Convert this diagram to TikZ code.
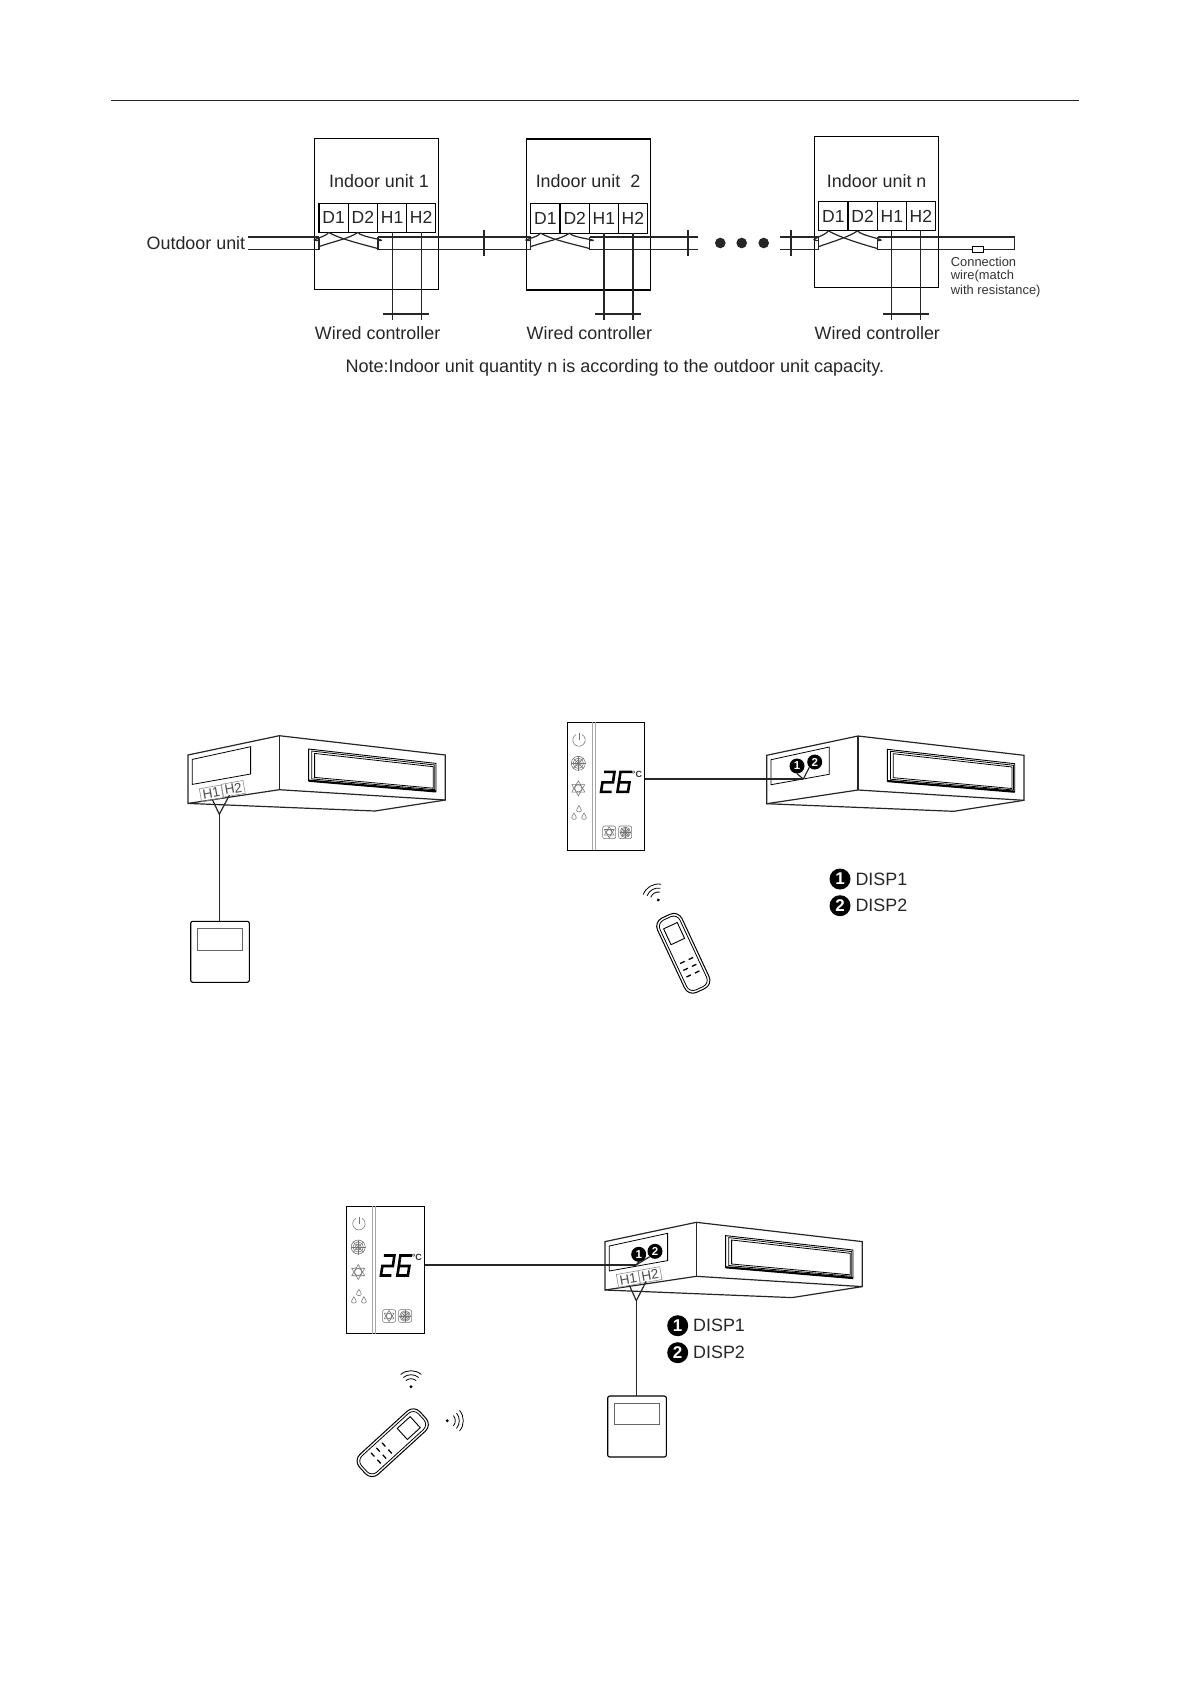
\documentclass[tikz,border=0pt]{standalone}
\usepackage{fontspec}
\setmainfont{Liberation Sans}
\usetikzlibrary{calc}
\newcommand{\fs}[1]{\fontsize{#1}{#1}\selectfont}
\tikzset{
    wire/.style={line width=1.2pt,black!85},
    label/.style={font=\fs{17.9},text=black!85,inner sep=0pt},
    cell/.style={draw,line width=1.1pt,minimum width=29.2pt,minimum height=29.3pt,inner sep=0pt,outer sep=0pt,font=\fs{17.5},text=black!85},
    unitbox/.style={draw,line width=1.1pt,anchor=north west,minimum width=124.3pt,minimum height=151pt,inner sep=0pt,outer sep=0pt},
    htag/.style={draw=black!45,line width=.6pt,rotate=10,minimum width=22pt,minimum height=13pt,inner sep=0pt,outer sep=0pt,font=\fs{13.6},text=black!70},
    numdot/.style={circle,fill=black,text=white,inner sep=0pt,minimum size=15pt,font=\fs{11.5}\bfseries},
    numdotbig/.style={circle,fill=black,text=white,inner sep=0pt,minimum size=21pt,font=\fs{17}\bfseries},
    icon/.style={draw=black!55,line width=.55pt},
    ductunit/.pic={
        \draw[wire] (-91.3,19.3) -- (0,0) -- (166,19.3) -- (166,64.3) -- (95.7,75.3) -- (-91.3,67.7) -- cycle;
        \draw[wire] (0,0) -- (0,54);
        \draw[wire] (-91.3,67.7) -- (0,54) -- (166,64.3);
        \draw[line width=.8pt] (-87,23.7) -- (-28.7,11) -- (-28.7,38.3) -- (-87,48.7) -- cycle;
        \draw[line width=.9pt] (29.3,13.3) -- (156.7,27.7) -- (156.7,55.7) -- (29.3,45) -- cycle;
        \draw[line width=.8pt] (32.5,15.3) -- (155.5,29.3) -- (155.5,54) -- (32.5,43.2) -- cycle;
        \draw[line width=.8pt] (35.3,17.7) -- (154,31) -- (154,52.5) -- (35.3,41.7) -- cycle;
        \draw[line width=2.2pt] (29.3,45) -- (156.7,55.7);
    },
    wiredctrl/.pic={
        \node[draw,line width=1.1pt,rounded corners=2pt,anchor=north,minimum width=58.6pt,minimum height=61pt,inner sep=0pt,outer sep=0pt] (body) at (0,0) {};
        \draw[black!60,line width=1pt] (-22.8,7.4) rectangle (22.8,28.7);
    },
    sunicon/.pic={
        \draw[icon] (0,0) circle[radius=3.6pt];
        \draw[icon] (90:7.5pt) -- (210:7.5pt) -- (330:7.5pt) -- cycle;
        \draw[icon] (270:7.5pt) -- (30:7.5pt) -- (150:7.5pt) -- cycle;
    },
    snowicon/.pic={
        \draw[icon] (0,0) circle[radius=3pt];
        \draw[icon] (0,0) circle[radius=5.2pt];
        \draw[icon] (0,0) circle[radius=7pt];
        \foreach \a in {0,45,...,315}{
            \draw[icon] (0,0) -- (\a:7.5pt);
        }
    },
    dropicon/.pic={
        \draw[icon] (0,-3.8) .. controls (1,-1.4) and (2.4,-.5) .. (2.4,1) .. controls (2.4,3.1) and (-2.4,3.1) .. (-2.4,1) .. controls (-2.4,-.5) and (-1,-1.4) .. (0,-3.8) -- cycle;
    },
    dispanel/.pic={
        \node[draw,line width=1pt,anchor=north west,minimum width=77.8pt,minimum height=127.7pt,inner sep=0pt,outer sep=0pt] (box) at (0,0) {};
        \draw[black!35,line width=.7pt] (25.3,0) -- (25.3,127.7);
        \draw[black!35,line width=.7pt] (28,0) -- (28,127.7);
        % power
        \draw[icon] (12,17.7) ++(60:6.2pt) arc[start angle=60,end angle=-240,radius=6.2pt];
        \draw[icon] (12,10.5) -- (12,17.7);
        \pic at (11.3,41) {snowicon};
        \pic at (11.3,66) {sunicon};
        \pic at (12,87) {dropicon};
        \pic at (7,94.5) {dropicon};
        \pic at (17,94.5) {dropicon};
        % 26
        \draw[line width=2.6pt,line join=miter] (37,49.5) -- (47.5,49.5) -- (46,60) -- (35.5,60) -- (34,69.5) -- (44.5,69.5);
        \draw[line width=2.6pt,line join=miter] (65,49.5) -- (53.5,49.5) -- (50.5,69.5) -- (61,69.5) -- (62.5,60) -- (52,60);
        \node[inner sep=0pt,font=\fs{9}\bfseries,text=black!80] (degc) at (70,51.7) {°C};
        \draw[icon,rounded corners=2pt] (35.7,103.7) rectangle (48.7,116.4);
        \draw[icon,rounded corners=2pt] (51.7,103.7) rectangle (64.7,116.4);
        \pic[scale=.75] at (42.2,110) {sunicon};
        \pic[scale=.75] at (58.2,110) {snowicon};
    },
    remote/.pic={
        \draw[line width=1pt,rounded corners=9pt] (-13.5,-41) rectangle (13.5,41);
        \draw[line width=.8pt,rounded corners=7pt] (-11,-38.5) rectangle (11,38.5);
        \draw[line width=.9pt] (-7.5,-30.5) rectangle (7.5,-13);
        \foreach \r in {7.9,15.5,22.8}{
            \foreach \s in {-1,1}{
                \draw[line width=1.3pt] ({\s*4.7-2.5},\r) -- ({\s*4.7+2.5},\r);
            }
        }
    },
    wifi/.pic={
        \fill[black] (0,0) circle[radius=1.6pt];
        \foreach \r in {8,12,16}{
            \draw[line width=.8pt] (0,0) ++(50:\r pt) arc[start angle=50,end angle=130,radius=\r pt];
        }
    },
}
\begin{document}
\begin{tikzpicture}[x=1pt,y=-1pt]
\useasboundingbox (0,0) rectangle (1191,1684);
\pgfmathsetmacro{\wa}{237}
\pgfmathsetmacro{\wb}{249.6}
\coordinate (hbase) at (0,320);
\draw[wire] (110.6,100.7) -- (1079.4,100.7);
% indoor units
\foreach \u/\ux/\uy/\ut/\tx in {1/314.6/138.3/{Indoor unit 1}/379,2/526.4/139/{Indoor unit\ \ 2}/588,n/814.3/136.7/{Indoor unit n}/876.7}{
    \node[unitbox] (unit\u) at (\ux,\uy) {};
    \node[label] (title\u) at (\tx,181) {\ut};
    \foreach \lab/\dx in {D1/19,D2/48.3,H1/77.5,H2/106.5}{
        \node[cell] (\lab\u) at (\ux+\dx,\uy+79.4) {\lab};
    }
    \coordinate (wl\u) at (\ux+4.4,\wa);
    \coordinate (wlb\u) at (\ux+4.4,\wb);
    \coordinate (wr\u) at (\ux+63.3,\wa);
    \coordinate (wrb\u) at (\ux+63.3,\wb);
    \draw[wire] (wl\u) -- (wlb\u);
    \draw[wire] (wr\u) -- (wrb\u);
    % crossing inside the unit
    \draw[wire] ([xshift=-5pt]D1\u.south) .. controls +(-2,5) and +(-14,0) .. ($(wl\u)+(0,3.5)$);
    \draw[wire] ([xshift=-5pt]D2\u.south) .. controls +(2,5) and +(14,0) .. ($(wr\u)+(0,3.5)$);
    \draw[wire] ([xshift=-5pt]D2\u.south) .. controls +(-8,6) and +(14,-5) .. ($(wlb\u)+(0,-3)$);
    \draw[wire] ([xshift=-5pt]D1\u.south) .. controls +(12,7) and +(-14,-4) .. ($(wrb\u)+(0,-1)$);
    % controller wires
    \draw[wire] (H1\u.south) -- (H1\u.south |- hbase);
    \draw[wire] (H2\u.south) -- (H2\u.south |- hbase);
    \coordinate (crossl\u) at (\ux+68.7,314);
    \coordinate (crossr\u) at (\ux+114.5,314);
    \draw[wire] (crossl\u) -- (crossr\u);
    \node[label] (ctrl\u) at (\ux+63,332.7) {Wired controller};
}
\node[label,anchor=east] (outdoor) at (245.4,243) {Outdoor unit};
\coordinate (oa) at (247.9,\wa);
\coordinate (ob) at (247.9,\wb);
\draw[wire] (oa) -- (wl1);
\draw[wire] (ob) -- (wlb1);
\draw[wire] (wr1) -- (wl2);
\draw[wire] (wrb1) -- (wlb2);
\coordinate (gapa) at (698.3,\wa);
\coordinate (gapb) at (698.3,\wb);
\coordinate (gapc) at (780,\wa);
\coordinate (gapd) at (780,\wb);
\draw[wire] (wr2) -- (gapa);
\draw[wire] (wrb2) -- (gapb);
\draw[wire] (gapc) -- (wln);
\draw[wire] (gapd) -- (wlbn);
\foreach \x in {484,688,791}{
    \draw[wire] (\x,229.5) -- (\x,256);
}
\foreach \x in {720.3,741.7,763.7}{
    \fill[black!85] (\x,243) circle[radius=5.3pt];
}
% end of line
\coordinate (enda) at (1014.7,\wa);
\coordinate (endb) at (1014.7,\wb);
\draw[wire] (wrn) -- (enda) -- (endb) -- (wrbn);
\node[draw,fill=white,line width=1pt,minimum width=11.4pt,minimum height=5.4pt,inner sep=0pt] (resistor) at (978,\wb) {};
\foreach \n/\y/\t in {cona/262/Connection,conb/276.5/wire(match,conc/291/with resistance)}{
    \node[anchor=west,inner sep=0pt,font=\fs{12.9},text=black!80] (\n) at (950.7,\y) {\t};
}
\node[label,anchor=west,font=\fs{18.05}] (note) at (345.4,367.7) {Note:Indoor unit quantity n is according to the outdoor unit capacity.};
% unit with wired controller
\pic at (279.3,735.7) {ductunit};
\node[htag] (H1A) at (211.3,793.3) {H1};
\node[htag] (H2A) at (233.3,788.8) {H2};
\coordinate (jointA) at (219.3,814.3);
\draw[wire] (H1A.south) -- (jointA) -- ([xshift=-5pt]H2A.south);
\pic (ctrlA) at (220,921.3) {wiredctrl};
\draw[wire] (jointA) -- (jointA |- ctrlAbody.north);
% unit with display
\pic at (858,736) {ductunit};
\pic (panelB) at (567,722.3) {dispanel};
\node[numdot] (dotBa) at (797,766) {1};
\node[numdot] (dotBb) at (814.7,762) {2};
\coordinate (leadB) at (803.3,779);
\draw[wire] (panelBbox.east |- leadB) -- (leadB);
\draw[wire] (leadB) -- (dotBa.south);
\draw[wire] (leadB) -- (dotBb.south west);
\pic[rotate=25] at (683.3,953.3) {remote};
\pic[rotate=30] at (658.3,900) {wifi};
\node[numdotbig] (legBa) at (840,879) {1};
\node[numdotbig] (legBb) at (840,905.7) {2};
\node[label,anchor=west] (dispBa) at (855.3,879) {DISP1};
\node[label,anchor=west] (dispBb) at (855.3,905.7) {DISP2};
% unit with both
\pic at (696.3,1222.3) {ductunit};
\pic (panelC) at (346.9,1206) {dispanel};
\node[numdot] (dotCa) at (638.7,1254.3) {1};
\node[numdot] (dotCb) at (655,1251.3) {2};
\coordinate (leadC) at (636,1265);
\draw[wire] (panelCbox.east |- leadC) -- (leadC);
\draw[wire] (leadC) -- (dotCa.south);
\draw[wire] (leadC) -- (dotCb.south west);
\node[htag] (H1C) at (628.3,1279) {H1};
\node[htag] (H2C) at (650,1275) {H2};
\coordinate (jointC) at (636.3,1300.7);
\draw[wire] (H1C.south) -- (jointC) -- ([xshift=-5pt]H2C.south);
\pic (ctrlC) at (637,1396) {wiredctrl};
\draw[wire] (jointC) -- (jointC |- ctrlCbody.north);
\pic[rotate=-47.6] at (392.7,1442.7) {remote};
\pic at (411,1386.7) {wifi};
\pic[rotate=-90] at (447.3,1420.7) {wifi};
\node[numdotbig] (legCa) at (677.7,1325.7) {1};
\node[numdotbig] (legCb) at (677.7,1352.7) {2};
\node[label,anchor=west] (dispCa) at (693,1325.7) {DISP1};
\node[label,anchor=west] (dispCb) at (693,1352.7) {DISP2};
\end{tikzpicture}
\end{document}
